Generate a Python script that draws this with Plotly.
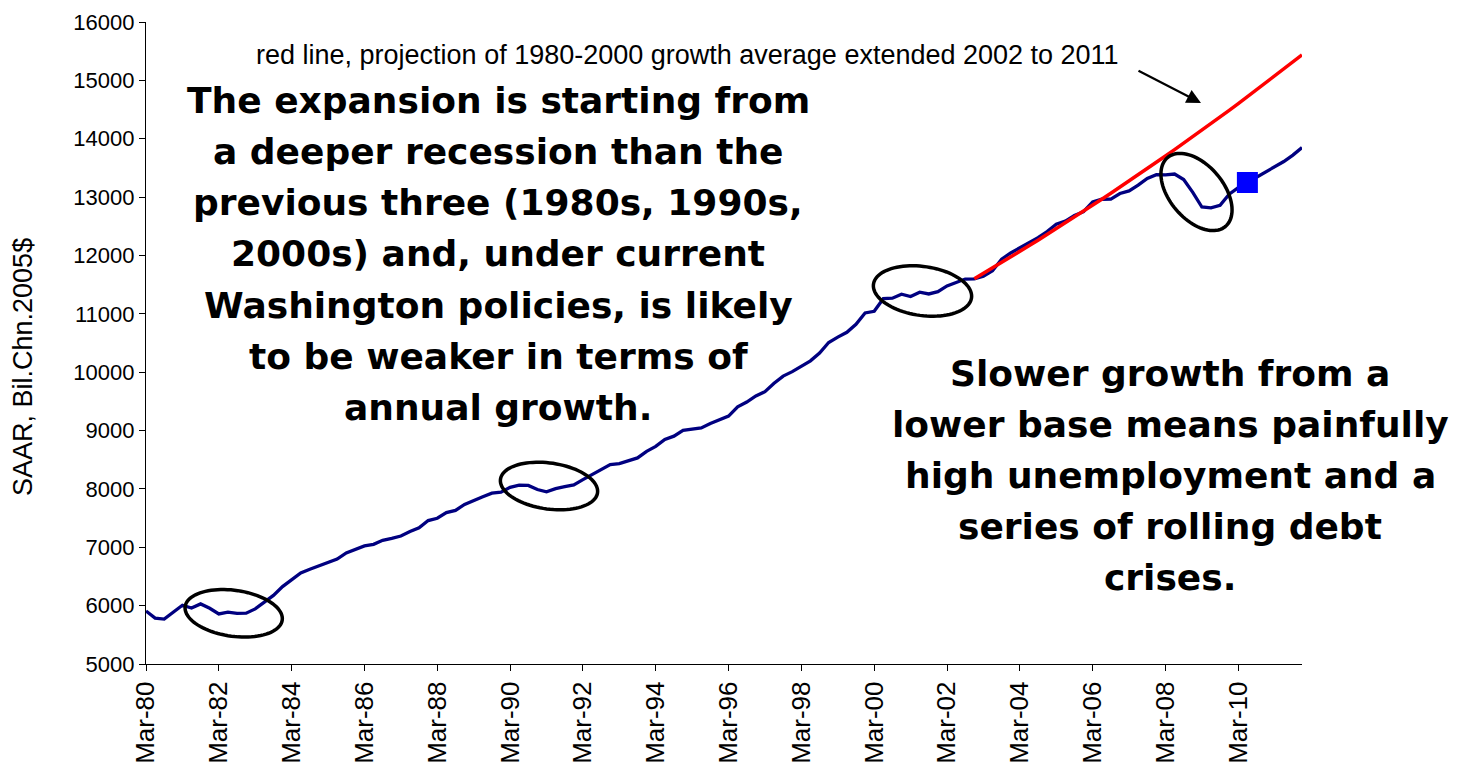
import numpy as np
import plotly.graph_objects as go

# ---------------- data ----------------
months = ["Mar", "Jun", "Sep", "Dec"]
years = list(range(1980, 2012))
quarters = [f"{m}-{y % 100:02d}" for y in years for m in months]  # Mar-80 .. Dec-11

gdp = [
    5908, 5787, 5770, 5884,      # 1980
    6006, 5958, 6030, 5955,      # 1981
    5857, 5889, 5866, 5871,      # 1982
    5944, 6060, 6175, 6326,      # 1983
    6448, 6560, 6623, 6677,      # 1984
    6740, 6797, 6904, 6956,      # 1985
    7023, 7051, 7119, 7153,      # 1986
    7193, 7270, 7333, 7458,      # 1987
    7497, 7593, 7632, 7734,      # 1988
    7807, 7865, 7927, 7945,      # 1989
    8028, 8065, 8060, 7989,      # 1990
    7950, 8004, 8038, 8069,      # 1991
    8158, 8244, 8329, 8417,      # 1992
    8433, 8486, 8531, 8644,      # 1993
    8728, 8847, 8904, 9003,      # 1994
    9025, 9045, 9121, 9184,      # 1995
    9247, 9407, 9489, 9593,      # 1996
    9666, 9810, 9933, 10009,     # 1997
    10103, 10194, 10329, 10508,  # 1998
    10601, 10684, 10820, 11014,  # 1999
    11043, 11259, 11268, 11335,  # 2000
    11297, 11371, 11340, 11380,  # 2001
    11478, 11539, 11596, 11599,  # 2002
    11646, 11739, 11936, 12043,  # 2003
    12128, 12214, 12304, 12410,  # 2004
    12534, 12588, 12683, 12749,  # 2005
    12916, 12963, 12966, 13061,  # 2006
    13105, 13204, 13321, 13385,  # 2007
    13380, 13395, 13300, 13080,  # 2008
    12830, 12815, 12860, 13050,  # 2009
    13160, 13250, 13340, 13440,  # 2010
    13520, 13610, 13720, 13850,  # 2011
]

proj_start = "Dec-02"
projection = [
    11599, 11691, 11785, 11879, 11973, 12069, 12165, 12262, 12360, 12458,
    12558, 12658, 12759, 12860, 12963, 13066, 13170, 13275, 13381, 13488,
    13595, 13703, 13813, 13923, 14034, 14146, 14258, 14372, 14487, 14602,
    14719, 14836, 14954, 15073, 15193, 15314, 15436,
]

marker_quarter = "Jun-10"
marker_value = 13250

tick_labels = [q for q in quarters if q.startswith("Mar-") and int(q[-2:]) % 2 == 0]

left_text = [
    "The expansion is starting from",
    "a deeper recession than the",
    "previous three (1980s, 1990s,",
    "2000s) and, under current",
    "Washington policies, is likely",
    "to be weaker in terms of",
    "annual growth.",
]
right_text = [
    "Slower growth from a",
    "lower base means painfully",
    "high unemployment and a",
    "series of rolling debt",
    "crises.",
]
note_text = "red line, projection of 1980-2000 growth average extended 2002 to 2011"
y_title = "SAAR, Bil.Chn.2005$"

# ---------------- layout geometry ----------------
W, H = 1460, 770
L, R, T, B = 146, 1302, 22, 664
PW, PH = R - L, B - T


def px(x):
    return (x - L) / PW


def py(y):
    return (B - y) / PH


idx = {q: i for i, q in enumerate(quarters)}
x_all = [idx[q] for q in quarters]
p0 = idx[proj_start]
x_proj = list(range(p0, p0 + len(projection)))

fig = go.Figure()
fig.add_trace(go.Scatter(x=x_all, y=gdp, mode="lines",
                         line=dict(color="#000080", width=3.3), hoverinfo="skip"))
fig.add_trace(go.Scatter(x=x_proj, y=projection, mode="lines",
                         line=dict(color="#FF0000", width=3.5), hoverinfo="skip"))
fig.add_trace(go.Scatter(x=[idx[marker_quarter]], y=[marker_value], mode="markers",
                         marker=dict(symbol="square", size=21, color="#0000FF"),
                         hoverinfo="skip"))

# ellipses (pixel geometry)
ellipses = [
    (233.7, 613.3, 49, 23, 8),
    (549, 486, 49, 23, 8),
    (922.5, 291, 49.5, 24.5, 8),
    (1196.5, 192, 45, 27, 50),
]
shapes = []
for cx, cy, a, b, deg in ellipses:
    th = np.deg2rad(deg)
    t = np.linspace(0, 2 * np.pi, 90)
    xs = cx + a * np.cos(t) * np.cos(th) - b * np.sin(t) * np.sin(th)
    ys = cy + a * np.cos(t) * np.sin(th) + b * np.sin(t) * np.cos(th)
    path = "M " + " L ".join(f"{px(x):.5f},{py(y):.5f}" for x, y in zip(xs, ys)) + " Z"
    shapes.append(dict(type="path", path=path, xref="paper", yref="paper",
                       line=dict(color="black", width=3.5)))

comic = "DejaVu Sans"
annotations = []
for i, line in enumerate(left_text):
    annotations.append(dict(text=f"<b>{line}</b>", x=px(498), y=py(100 + i * 51.3),
                            xref="paper", yref="paper", showarrow=False,
                            xanchor="center", yanchor="middle",
                            font=dict(family=comic, size=36, color="black")))
for i, line in enumerate(right_text):
    annotations.append(dict(text=f"<b>{line}</b>", x=px(1170), y=py(373 + i * 51),
                            xref="paper", yref="paper", showarrow=False,
                            xanchor="center", yanchor="middle",
                            font=dict(family=comic, size=36, color="black")))
annotations.append(dict(text=note_text, x=px(687), y=py(55), xref="paper", yref="paper",
                        showarrow=False, xanchor="center", yanchor="middle",
                        font=dict(family="Liberation Sans", size=27, color="black")))
annotations.append(dict(text="", x=px(1201), y=py(103), xref="paper", yref="paper",
                        showarrow=True, ax=-64, ay=-33, arrowhead=2, arrowsize=1.3,
                        arrowwidth=2.2, arrowcolor="black"))
annotations.append(dict(text=y_title, x=px(23), y=py(367), xref="paper", yref="paper",
                        showarrow=False, textangle=-90, xanchor="center", yanchor="middle",
                        font=dict(family="Liberation Sans", size=27, color="black")))

fig.update_layout(
    width=W, height=H,
    margin=dict(l=L, r=W - R, t=T, b=H - B, pad=0),
    paper_bgcolor="white", plot_bgcolor="white",
    showlegend=False,
    shapes=shapes, annotations=annotations,
    xaxis=dict(range=[0, len(quarters) - 1], automargin=False,
               tickvals=[idx[q] for q in tick_labels], ticktext=tick_labels,
               tickangle=-90, ticks="outside", ticklen=6, tickcolor="black",
               showline=True, linecolor="black", linewidth=1.2,
               showgrid=False, zeroline=False,
               tickfont=dict(family="Liberation Sans", size=26, color="black")),
    yaxis=dict(range=[5000, 16000], dtick=1000, tick0=5000, tickformat="d",
               automargin=False,
               ticks="outside", ticklen=6, tickcolor="black",
               showline=True, linecolor="black", linewidth=1.2,
               showgrid=False, zeroline=False,
               tickfont=dict(family="Liberation Sans", size=22, color="black")),
)

fig.write_html("out.html", config={"displayModeBar": False},
               post_script="document.body.style.margin='0';document.body.style.overflow='hidden';")
